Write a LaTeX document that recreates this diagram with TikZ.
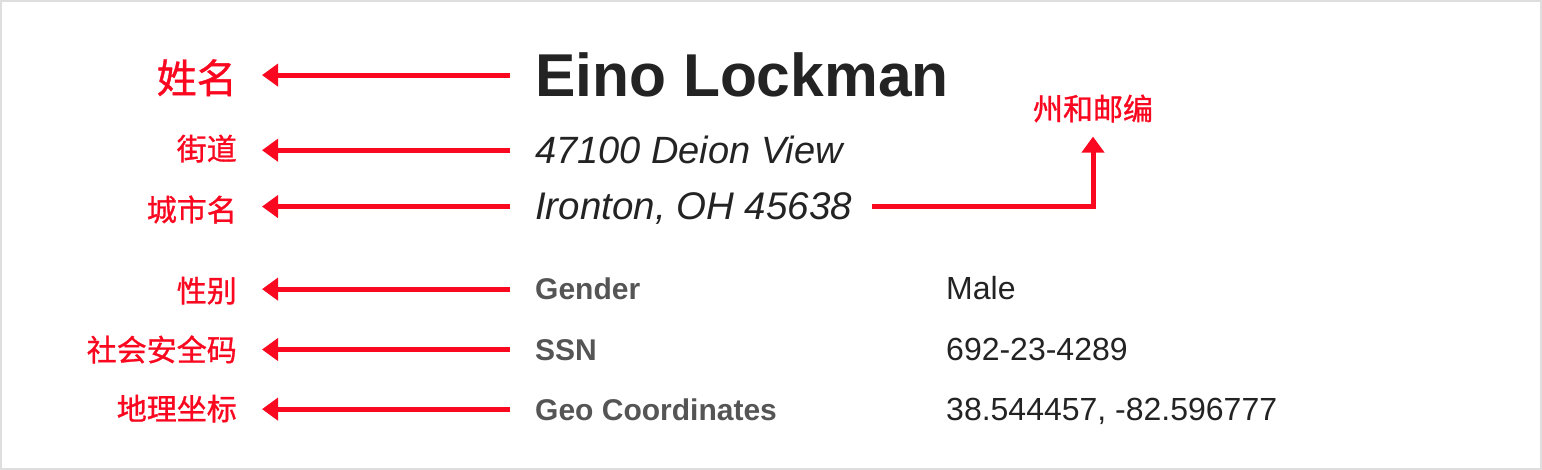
\documentclass[tikz,border=0pt]{standalone}
\usepackage{fontspec}
\setmainfont{Liberation Sans}
\newfontfamily\cjk{Noto Sans CJK SC}[FakeBold=1]
\usepackage{xcolor}
\usepackage{tikz}
\usetikzlibrary{arrows.meta, positioning, calc}
\definecolor{MarkRed}{RGB}{250, 8, 32}
\definecolor{FrameGray}{RGB}{222, 222, 222}
\definecolor{InkDark}{RGB}{35, 35, 35}
\definecolor{InkGray}{RGB}{85, 85, 85}
\tikzset{
  tagtext/.style={anchor=base east, inner sep=0pt, text=MarkRed,
    font=\cjk\fontsize{30}{36}\selectfont},
  fieldtext/.style={anchor=base west, inner sep=0pt, text depth=0pt, text=InkDark},
  pointer/.style={draw=MarkRed, line width=5pt,
    -{Triangle[length=16pt, width=22pt]}, shorten <=25pt, shorten >=25pt}
}

\begin{document}
\begin{tikzpicture}[x=1pt, y=-1pt]
  \useasboundingbox (0,0) rectangle (1542,470);
  \draw[FrameGray, line width=2pt, fill=white] (1,1) rectangle (1541,469);

  % red tags on the left
  \node[tagtext, font=\cjk\fontsize{40}{48}\selectfont] (tname) at (237,93) {姓名};
  \node[tagtext] (tstreet) at (237,160) {街道};
  \node[tagtext] (tcity) at (237,221) {城市名};
  \node[tagtext] (tgender) at (237,302) {性别};
  \node[tagtext] (tssn) at (237,361) {社会安全码};
  \node[tagtext] (tgeo) at (237,420) {地理坐标};
  \node[tagtext, anchor=base] (tzip) at (1093,120) {州和邮编};

  % address block
  \node[fieldtext, font=\bfseries\fontsize{60.5}{72}\selectfont] (fname) at (535,97) {Eino Lockman};
  \node[fieldtext, font=\itshape\fontsize{38}{46}\selectfont] (fstreet) at (535,164) {47100 Deion View};
  \node[fieldtext, font=\itshape\fontsize{38.5}{46}\selectfont] (fcity) at (535,220) {Ironton, OH 45638};

  % details table
  \node[fieldtext, text=InkGray, font=\bfseries\fontsize{30}{36}\selectfont] (fgender) at (535,300) {Gender};
  \node[fieldtext, text=InkGray, font=\bfseries\fontsize{30}{36}\selectfont] (fssn) at (535,360) {SSN};
  \node[fieldtext, text=InkGray, font=\bfseries\fontsize{30}{36}\selectfont] (fgeo) at (535,420) {Geo Coordinates};
  \node[fieldtext, font=\fontsize{32}{38}\selectfont] (vgender) at (946,300) {Male};
  \node[fieldtext, font=\fontsize{32}{38}\selectfont] (vssn) at (946,360) {692-23-4289};
  \node[fieldtext, font=\fontsize{32}{38}\selectfont] (vgeo) at (946,420) {38.544457, -82.596777};

  % arrows
  \foreach \f/\t in {fname/tname, fstreet/tstreet, fcity/tcity,
                     fgender/tgender, fssn/tssn, fgeo/tgeo}
    \draw[pointer] (\f.west) -- (\f.west -| \t.east);
  \draw[pointer, shorten <=20pt, shorten >=14pt]
    (fcity.east) -- (fcity.east -| tzip.south) -- (tzip.south);
\end{tikzpicture}
\end{document}
